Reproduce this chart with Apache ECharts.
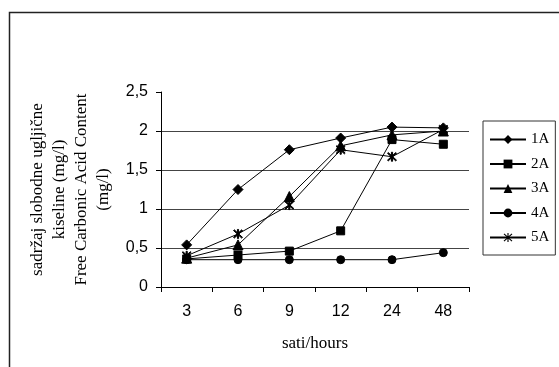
<!DOCTYPE html>
<html>
<head>
<meta charset="utf-8">
<script src="https://cdn.jsdelivr.net/npm/echarts@6/dist/echarts.min.js"></script>
<style>
  html, body { margin: 0; padding: 0; background: #fff; }
  #chart { width: 559px; height: 367px; }
</style>
</head>
<body>
<div id="chart"></div>
<script>
// Sampling times (hours)
const hours = ['3', '6', '9', '12', '24', '48'];

// Free carbonic acid content (mg/l) per sample
const s1A = [0.54, 1.25, 1.76, 1.91, 2.05, 2.04];
const s2A = [0.36, 0.41, 0.46, 0.72, 1.89, 1.83];
const s3A = [0.37, 0.54, 1.16, 1.81, 1.95, 2.00];
const s4A = [0.35, 0.35, 0.35, 0.35, 0.35, 0.44];
const s5A = [0.40, 0.68, 1.05, 1.76, 1.67, 2.02];

const seriesNames = ['1A', '2A', '3A', '4A', '5A'];
const yTicks = [0, 0.5, 1, 1.5, 2, 2.5];

// asterisk marker: vertical bar plus two diagonals
const asterisk = 'path://M4.4,0 L5.6,0 L5.6,10 L4.4,10 Z ' +
  'M0.4,1.2 L1.2,0.4 L9.6,8.8 L8.8,9.6 Z ' +
  'M8.8,0.4 L9.6,1.2 L1.2,9.6 L0.4,8.8 Z';

const symbols = ['diamond', 'rect', 'triangle', 'circle', asterisk];
const sizes = [10, 8, 10, 8, 9];
const values = [s1A, s2A, s3A, s4A, s5A];

const chart = echarts.init(document.getElementById('chart'));

const fmt = v => String(v).replace('.', ',');

chart.setOption({
  animation: false,
  backgroundColor: '#fff',
  grid: { left: 161, right: 90, top: 92, bottom: 80 },
  graphic: [{
    type: 'rect',
    shape: { x: 9.5, y: 12.5, width: 600, height: 400 },
    style: { fill: 'none', stroke: '#222', lineWidth: 1.5 },
    silent: true
  }],
  legend: {
    orient: 'vertical',
    left: 483,
    top: 121,
    padding: [10, 6, 9, 6],
    itemGap: 7.5,
    itemWidth: 36,
    itemHeight: 11,
    borderColor: '#333',
    borderWidth: 1,
    textStyle: { fontFamily: 'Liberation Serif', fontSize: 15, color: '#000', lineHeight: 17 },
    data: seriesNames
  },
  xAxis: {
    type: 'category',
    data: hours,
    boundaryGap: true,
    name: 'sati/hours',
    nameLocation: 'middle',
    nameGap: 48,
    nameTextStyle: { fontFamily: 'Liberation Serif', fontSize: 17, color: '#000' },
    axisLine: { lineStyle: { color: '#000', width: 1 } },
    axisTick: { show: true, length: 5, inside: false, lineStyle: { color: '#000' } },
    axisLabel: { margin: 17, fontFamily: 'Liberation Sans', fontSize: 16, color: '#000' },
    splitLine: { show: false }
  },
  yAxis: {
    type: 'value',
    min: yTicks[0],
    max: yTicks[yTicks.length - 1],
    interval: 0.5,
    name: 'sadržaj slobodne ugljične\nkiseline (mg/l)\nFree Carbonic Acid Content\n(mg/l)',
    nameLocation: 'middle',
    nameRotate: 90,
    nameGap: 44,
    nameTextStyle: { fontFamily: 'Liberation Serif', fontSize: 17, color: '#000', lineHeight: 22, align: 'center' },
    axisLine: { show: true, lineStyle: { color: '#000', width: 1 } },
    axisTick: { show: true, length: 5, lineStyle: { color: '#000' } },
    axisLabel: { margin: 13, fontFamily: 'Liberation Sans', fontSize: 16, color: '#000', formatter: fmt },
    splitLine: {
      show: true,
      lineStyle: { color: ['rgba(0,0,0,0)', '#444', '#444', '#444', '#444', 'rgba(0,0,0,0)'], width: 1 }
    }
  },
  series: seriesNames.map((name, i) => ({
    name,
    type: 'line',
    data: values[i],
    symbol: symbols[i],
    symbolSize: sizes[i],
    showAllSymbol: true,
    lineStyle: { color: '#000', width: 1 },
    itemStyle: { color: '#000', borderColor: '#000' },
    emphasis: { disabled: true }
  }))
});
</script>
</body>
</html>
